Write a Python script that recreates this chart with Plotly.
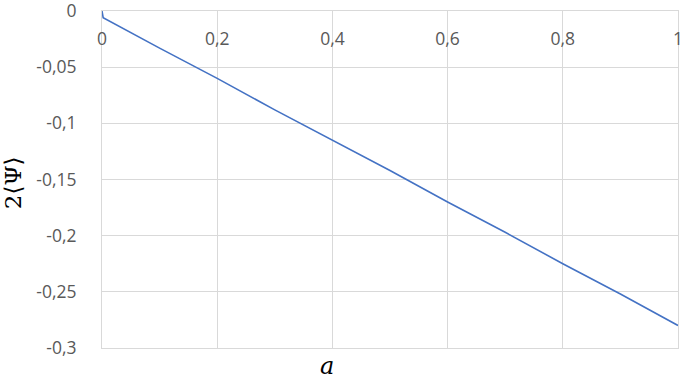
import plotly.graph_objects as go

a_vals = [0.0, 0.002, 0.1, 0.2, 0.3, 0.4, 0.5, 0.6, 0.7, 0.8, 0.9, 1.0]
psi_vals = [0.0, -0.006, -0.033, -0.060, -0.088, -0.115, -0.142, -0.170, -0.197, -0.225, -0.252, -0.280]

x_ticks = [0, 0.2, 0.4, 0.6, 0.8, 1]
x_labels = ["0", "0,2", "0,4", "0,6", "0,8", "1"]
y_ticks = [0, -0.05, -0.1, -0.15, -0.2, -0.25, -0.3]
y_labels = ["0", "-0,05", "-0,1", "-0,15", "-0,2", "-0,25", "-0,3"]

fig = go.Figure()
fig.add_trace(go.Scatter(x=a_vals, y=psi_vals, mode="lines",
                         line=dict(color="#4472C4", width=1.6), showlegend=False,
                         cliponaxis=False))

tick_font = dict(family="Open Sans, Noto Sans, sans-serif", size=17.5, color="#595959")

fig.update_layout(
    width=685, height=378,
    margin=dict(l=102, r=7, t=11, b=30),
    paper_bgcolor="white", plot_bgcolor="white",
    xaxis=dict(range=[-0.00001, 1.00001], tickvals=x_ticks, ticktext=x_labels, side="top",
               ticklabelposition="inside", ticklabeloverflow="allow", ticks="",
               ticklabelstandoff=22, automargin=False,
               showgrid=True, gridcolor="#d9d9d9", gridwidth=1,
               showline=True, linecolor="#d9d9d9", linewidth=1, mirror=True,
               zeroline=False, tickfont=tick_font),
    yaxis=dict(range=[-0.30001, 0.00001], tickvals=y_ticks, ticktext=y_labels, ticks="",
               ticklabelstandoff=21, automargin=False, ticklabeloverflow="allow",
               showgrid=True, gridcolor="#d9d9d9", gridwidth=1,
               showline=True, linecolor="#d9d9d9", linewidth=1, mirror=True,
               zeroline=False, tickfont=tick_font),
    annotations=[
        dict(text="2⟨Ψ⟩", xref="paper", yref="paper", x=-0.154, y=0.49,
             xanchor="center", yanchor="middle", textangle=-90, showarrow=False,
             font=dict(family="DejaVu Serif, serif", size=23, color="black")),
        dict(text="<i>a</i>", xref="paper", yref="paper", x=0.39, y=-0.053,
             xanchor="center", yanchor="middle", showarrow=False,
             font=dict(family="DejaVu Serif, serif", size=24, color="black")),
    ],
)

fig.write_html("out.html", config={"displayModeBar": False},
               post_script="document.body.style.margin='0';document.body.style.overflow='hidden';")
